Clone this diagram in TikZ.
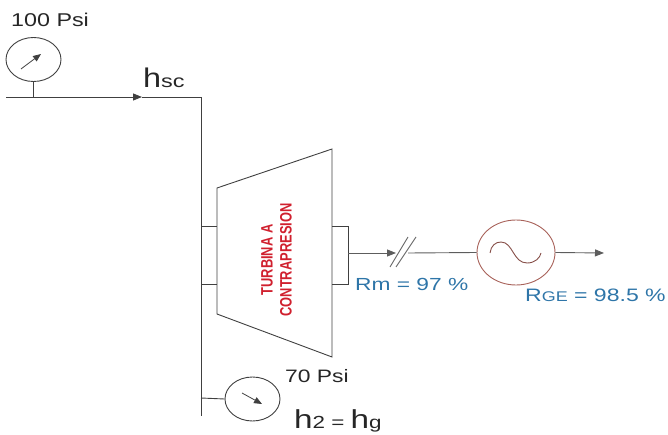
\documentclass[tikz,border=0pt]{standalone}
\usepackage{fontspec}
\usepackage{graphicx}
\setmainfont{Liberation Sans}
\usetikzlibrary{shapes.geometric,arrows.meta}
\definecolor{linegray}{HTML}{404040}
\definecolor{lblue}{HTML}{2E75A8}
\definecolor{genred}{HTML}{A8625A}
\definecolor{turbred}{HTML}{D0202E}
\newcommand{\wider}[1]{\scalebox{1.28}[1]{#1}}
\tikzset{
  pipe/.style={draw=linegray,line width=0.9pt},
  flow/.style={pipe,-{Triangle[length=9pt,width=7pt]}},
  gauge/.style={ellipse,draw=linegray,line width=0.9pt,inner sep=0pt,minimum width=55pt,minimum height=44pt},
  needle/.style={draw=linegray,line width=0.8pt,-{Triangle[length=8pt,width=6.5pt]}},
  lab/.style={inner sep=0pt,anchor=base west,text=black!85},
  bluelab/.style={inner sep=0pt,anchor=base west,text=lblue},
  turbtext/.style={inner sep=0pt,rotate=90,text=turbred,font=\fontsize{16.5}{17}\selectfont\bfseries}
}
\begin{document}
\begin{tikzpicture}[x=1pt,y=-1pt]
\useasboundingbox (0,0) rectangle (668,435);
% nodes
\node[gauge] (g1) at (33.5,59.5) {};
\node[gauge] (g2) at (252.5,399) {};
\node[ellipse,draw=genred,line width=0.9pt,inner sep=0pt,minimum width=78pt,minimum height=65pt] (gen) at (516,252.5) {};
\coordinate (in) at (6,97);
\coordinate (tap) at (33.5,97);
\coordinate (mid) at (142,97);
\coordinate (corner) at (201,97);
\coordinate (bot) at (201,416);
\coordinate (t1) at (217,188);
\coordinate (t2) at (332,149);
\coordinate (t3) at (332,357);
\coordinate (t4) at (217,314);
\coordinate (la) at (201,226);
\coordinate (lb) at (217,226);
\coordinate (lc) at (217,284);
\coordinate (ld) at (201,284);
\coordinate (ra) at (332,226);
\coordinate (rb) at (348,226);
\coordinate (rc) at (348,284);
\coordinate (rd) at (332,284);
\coordinate (sh) at (348,253);
\coordinate (sa) at (396,253);
\coordinate (sb) at (408,253);
\coordinate (out) at (604,253);
\coordinate (tap2) at (201,398);
% pipes
\draw[flow] (in) -- (mid);
\draw[pipe] (mid) -- (corner) -- (bot);
\draw[pipe] (g1.south) -- (tap);
\draw[pipe] (tap2) -- (g2.west);
% turbine
\draw[pipe,line join=miter] (t1) -- (t2) -- (t3) -- (t4) -- cycle;
\draw[pipe] (la) -- (lb) (lc) -- (ld);
\draw[pipe] (ra) -- (rb) -- (rc) -- (rd);
% shaft
\draw[flow,draw=linegray!85] (sh) -- (sa);
\draw[pipe,draw=linegray!85] (sb) -- (gen.west);
\draw[flow,draw=linegray!85] (gen.east) -- (out);
\draw[pipe,draw=linegray!80] (390,267) -- (408,237) (396,267) -- (416,237);
% sine
\draw[draw=genred!80!black,line width=0.9pt] (490,253) .. controls (491,246) and (495,242) .. (501,242) .. controls (513,242) and (513,263) .. (527,263) .. controls (535,263) and (540,258) .. (541,253);
% needles
\draw[needle] (21,69) -- (41,54);
\draw[needle] (242,393) -- (262,404);
% labels
\node[lab,font=\fontsize{18.5}{19}\selectfont] (p1) at (11,27) {\scalebox{1.26}[1]{100 Psi}};
\node[lab] (hsc) at (143,88) {\scalebox{1.2}[1]{\fontsize{27}{27}\selectfont h}\scalebox{1.3}[1]{\fontsize{18}{18}\selectfont sc}};
\node[lab,font=\fontsize{18}{19}\selectfont] (p2) at (285,382) {\scalebox{1.27}[1]{70 Psi}};
\node[lab] (h2) at (294,428.5) {\wider{\fontsize{26}{26}\selectfont h\fontsize{17.5}{18}\selectfont 2 = \fontsize{26}{26}\selectfont h\fontsize{17.5}{18}\selectfont g}};
\node[bluelab,font=\fontsize{17.5}{18}\selectfont] (rm) at (355,290) {\scalebox{1.3}[1]{Rm = 97 \%}};
\node[bluelab] (rge) at (525,301) {\wider{\fontsize{18}{18}\selectfont R\fontsize{14}{18}\selectfont GE\fontsize{18}{18}\selectfont{} = 98.5 \%}};
\node[turbtext] (tt1) at (267,260) {\scalebox{0.78}[1]{TURBINA A}};
\node[turbtext] (tt2) at (286,260) {\scalebox{0.78}[1]{CONTRAPRESION}};
\end{tikzpicture}
\end{document}
